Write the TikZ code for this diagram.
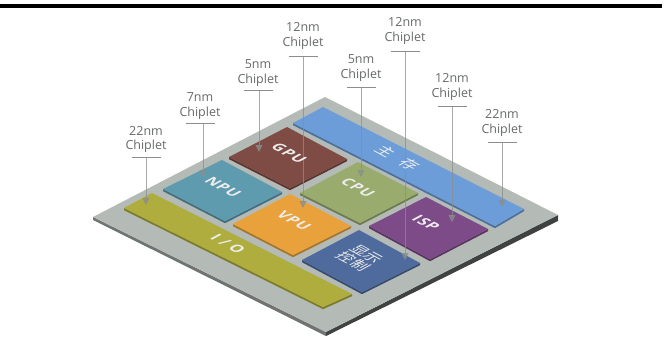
\documentclass[tikz,border=0pt]{standalone}
\usepackage{fontspec}
\setmainfont{Open Sans}
\newfontfamily\cjkfont{Noto Sans CJK SC}
\usetikzlibrary{arrows.meta,calc}
\definecolor{boardc}{HTML}{B4BAB6}
\definecolor{sidec}{HTML}{3E4241}
\definecolor{sideleftc}{HTML}{6F7472}
\definecolor{calloutc}{HTML}{8A8E8D}
\definecolor{textc}{HTML}{666A69}
\definecolor{memc}{HTML}{6C9DD8}
\definecolor{gpuc}{HTML}{7F4C45}
\definecolor{npuc}{HTML}{5E9BAE}
\definecolor{ioc}{HTML}{AEAD3D}
\definecolor{vpuc}{HTML}{E9A23B}
\definecolor{cpuc}{HTML}{9AAB6E}
\definecolor{ispc}{HTML}{7E4B89}
\definecolor{dispc}{HTML}{4F6B9D}
\tikzset{
  calloutlabel/.style={text=textc,font=\fontsize{12.5}{14.3}\selectfont,align=center,inner sep=0pt},
  calloutbar/.style={draw=calloutc,line width=0.9pt},
  calloutarrow/.style={draw=calloutc,draw opacity=0.75,fill opacity=0.75,line width=0.9pt,-{Triangle[length=7pt,width=7pt]}},
  chiptext/.style={text=white!93!black,inner sep=0pt,cm={0.87,-0.47,0.87,0.47,(0,0)}},
  latinlabel/.style={chiptext,font=\fontsize{15}{15}\selectfont\bfseries\addfontfeature{LetterSpace=6}},
}
% name, fill, four corners: left, top, right, bottom
\newcommand{\chipblock}[6]{%
  \fill[#2!72!black] #3 -- ($#3+(0,2.2)$) -- ($#6+(0,2.2)$) -- ($#5+(0,2.2)$) -- #5 -- #6 -- cycle;
  \fill[#2] #3 -- #4 -- #5 -- #6 -- cycle;
}
% name, text x, text y, bar y, arrow x, tip y, line 1
\newcommand{\callout}[7]{%
  \node[calloutlabel] (#1) at (#2,#3) {#7\\Chiplet};
  \coordinate (#1L) at (#2-14.5,#4);
  \coordinate (#1R) at (#2+14.5,#4);
  \coordinate (#1S) at (#5,#4);
  \coordinate (#1T) at (#5,#6);
  \draw[calloutbar] (#1L) -- (#1R);
  \draw[calloutarrow] (#1S) -- (#1T);
}
\begin{document}
\begin{tikzpicture}[x=1pt,y=-1pt]
\useasboundingbox (0,0) rectangle (667,345);
\fill[white] (0,0) rectangle (667,345);
\fill[black] (0,4) rectangle (662,8);
% board
\fill[sideleftc] (93,217) -- (93,220) -- (326,336) -- (326,332) -- cycle;
\fill[sidec] (326,332) -- (326,336) -- (558,221) -- (558,215) -- cycle;
\fill[boardc] (93,217) -- (325,97) -- (558,215) -- (326,332) -- cycle;
% chips
\chipblock{mem}{memc}{(293,123)}{(323,107)}{(524,209)}{(495,226)}
\chipblock{io}{ioc}{(124,208)}{(152,193)}{(352,294)}{(323,307)}
\chipblock{npu}{npuc}{(163,189)}{(222,160)}{(282,192)}{(225,221)}
\chipblock{gpu}{gpuc}{(229,157)}{(287,127)}{(347,159)}{(290,188)}
\chipblock{vpu}{vpuc}{(233,224)}{(290,194)}{(351,226)}{(293,255)}
\chipblock{cpu}{cpuc}{(300,193)}{(358,162)}{(418,193)}{(360,223)}
\chipblock{isp}{ispc}{(369,226)}{(426,197)}{(488,229)}{(430,259)}
\chipblock{disp}{dispc}{(302,260)}{(359,230)}{(420,263)}{(362,292)}
% callouts
\callout{a}{146}{139.5}{157}{146}{205}{22nm}
\callout{b}{200}{106}{123}{203}{177}{7nm}
\callout{c}{258}{73}{90}{259}{152}{5nm}
\callout{d}{303}{36}{56}{303}{208}{12nm}
\callout{e}{361}{68}{87}{361}{177}{5nm}
\callout{f}{405}{31}{51}{405}{260}{12nm}
\callout{g}{452}{87}{106}{452}{222}{12nm}
\callout{h}{502}{123}{142}{502}{207}{22nm}
% chip labels
\node[latinlabel] (tgpu) at (289,153) {GPU};
\node[latinlabel] (tnpu) at (223,187) {NPU};
\node[latinlabel] (tcpu) at (358,188) {CPU};
\node[latinlabel] (tvpu) at (294,221) {VPU};
\node[latinlabel] (tisp) at (426,223) {ISP};
\node[latinlabel] (tio) at (228,244) {I / O};
\node[chiptext,font=\fontsize{16}{16}\selectfont\cjkfont] (tmem) at (398,158) {主\hspace{0.7em}存};
\node[chiptext,font=\fontsize{15.5}{15.5}\selectfont\cjkfont,align=center] (tdisp) at (360,258) {显示\\控制};
\end{tikzpicture}
\end{document}
